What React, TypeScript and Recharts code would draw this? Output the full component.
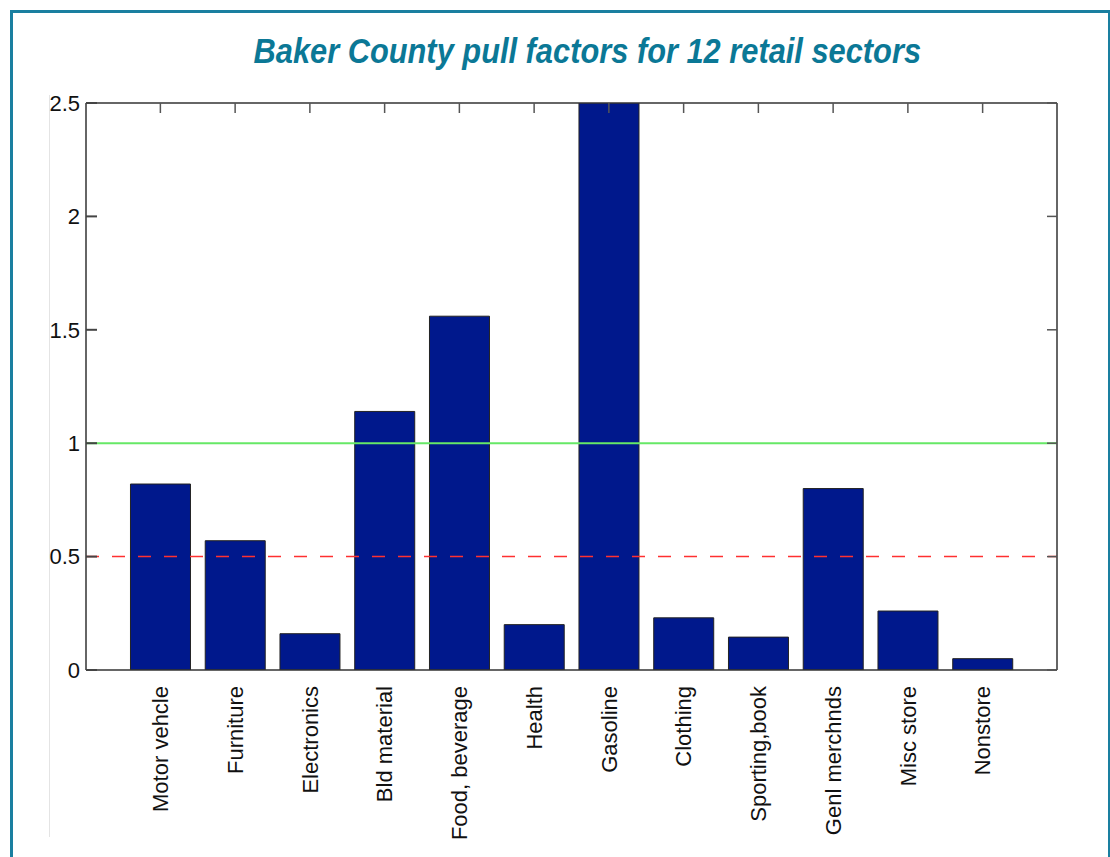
import React from 'react';
import { BarChart, Bar, XAxis, YAxis, ReferenceLine } from 'recharts';

const sectors = [
    'Motor vehcle', 'Furniture', 'Electronics', 'Bld material', 'Food, beverage', 'Health',
    'Gasoline', 'Clothing', 'Sporting,book', 'Genl merchnds', 'Misc store', 'Nonstore',
];
const pullFactors = [0.82, 0.57, 0.16, 1.14, 1.56, 0.2, 3.1, 0.23, 0.145, 0.8, 0.26, 0.05];
const yTicks = [0, 0.5, 1, 1.5, 2, 2.5];
const yTickLabels = ['0', '0.5', '1', '1.5', '2', '2.5'];

const data = sectors.map((name, i) => ({ name, value: pullFactors[i] }));

const BORDER = '#1a7fa0';
const AXIS = '#333';
const TICK = '#555';
const FONT = "'Liberation Sans', Arial, sans-serif";

const SectorTick = (props: any) => {
    const { x, y, payload } = props;
    return (
        <text
            transform={`translate(${x},${y + 8}) rotate(-90)`}
            textAnchor="end"
            dy="0.35em"
            fontSize={22}
            fill="#111"
            fontFamily={FONT}
        >
            {payload.value}
        </text>
    );
};

// label outside the box, tick mark pointing inward (MATLAB style)
const ValueTick = (props: any) => {
    const { x, y, payload } = props;
    return (
        <g>
            <path d={`M${x + 6},${y}H${x + 17}`} stroke="#444" strokeWidth={2} fill="none" />
            <text x={x} y={y} textAnchor="end" dy="0.35em" fontSize={22} fill="#111" fontFamily={FONT}>
                {yTickLabels[yTicks.indexOf(payload.value)]}
            </text>
        </g>
    );
};

const NoLabel = () => <g />;

export default function App() {
    return (
        <div style={{ position: 'absolute', left: 0, top: 0, width: 1110, height: 857, background: '#fff', overflow: 'hidden' }}>
            <div style={{
                position: 'absolute', left: 10, top: 10, width: 1095, height: 900,
                borderTop: `3px solid ${BORDER}`, borderLeft: `3px solid ${BORDER}`, borderRight: `3px solid ${BORDER}`,
            }} />
            <div style={{ position: 'absolute', left: 49, top: 95, width: 1, height: 742, background: '#e4e4e4' }} />
            <div style={{ position: 'absolute', left: 0, top: 31, width: 1174, textAlign: 'center' }}>
                <span style={{
                    display: 'inline-block', transform: 'scaleX(0.88)',
                    fontFamily: FONT, fontWeight: 'bold', fontStyle: 'italic', fontSize: 35, color: '#0b7896',
                }}>
                    Baker County pull factors for 12 retail sectors
                </span>
            </div>
            <div style={{ position: 'absolute', left: 0, top: 0 }}>
                <BarChart
                    width={1110}
                    height={857}
                    data={data}
                    margin={{ top: 103, right: 53, left: 46, bottom: 37 }}
                    barCategoryGap="10%"
                >
                    <XAxis
                        dataKey="name"
                        interval={0}
                        height={150}
                        padding={{ left: 37, right: 37 }}
                        stroke={AXIS}
                        strokeWidth={1.5}
                        tickLine={false}
                        tick={<SectorTick />}
                    />
                    <XAxis
                        xAxisId="top"
                        orientation="top"
                        mirror
                        dataKey="name"
                        interval={0}
                        padding={{ left: 37, right: 37 }}
                        stroke={AXIS}
                        strokeWidth={1.5}
                        tickSize={10}
                        tickLine={{ stroke: TICK, strokeWidth: 1.5 }}
                        tick={<NoLabel />}
                    />
                    <YAxis
                        domain={[0, 2.5]}
                        ticks={yTicks}
                        allowDataOverflow
                        width={40}
                        stroke={AXIS}
                        strokeWidth={1.5}
                        tickLine={false}
                        tickMargin={0}
                        tick={<ValueTick />}
                    />
                    <YAxis
                        yAxisId="right"
                        orientation="right"
                        mirror
                        domain={[0, 2.5]}
                        ticks={yTicks}
                        allowDataOverflow
                        stroke={AXIS}
                        strokeWidth={1.5}
                        tickSize={10}
                        tickLine={{ stroke: TICK, strokeWidth: 1.5 }}
                        tick={<NoLabel />}
                    />
                    <Bar dataKey="value" fill="#00188c" stroke="#222" strokeWidth={1} isAnimationActive={false} />
                    <ReferenceLine y={1} stroke="#66e866" strokeWidth={2} />
                    <ReferenceLine y={0.5} stroke="#ff3030" strokeWidth={1.5} strokeDasharray="13 13" />
                </BarChart>
            </div>
        </div>
    );
}
